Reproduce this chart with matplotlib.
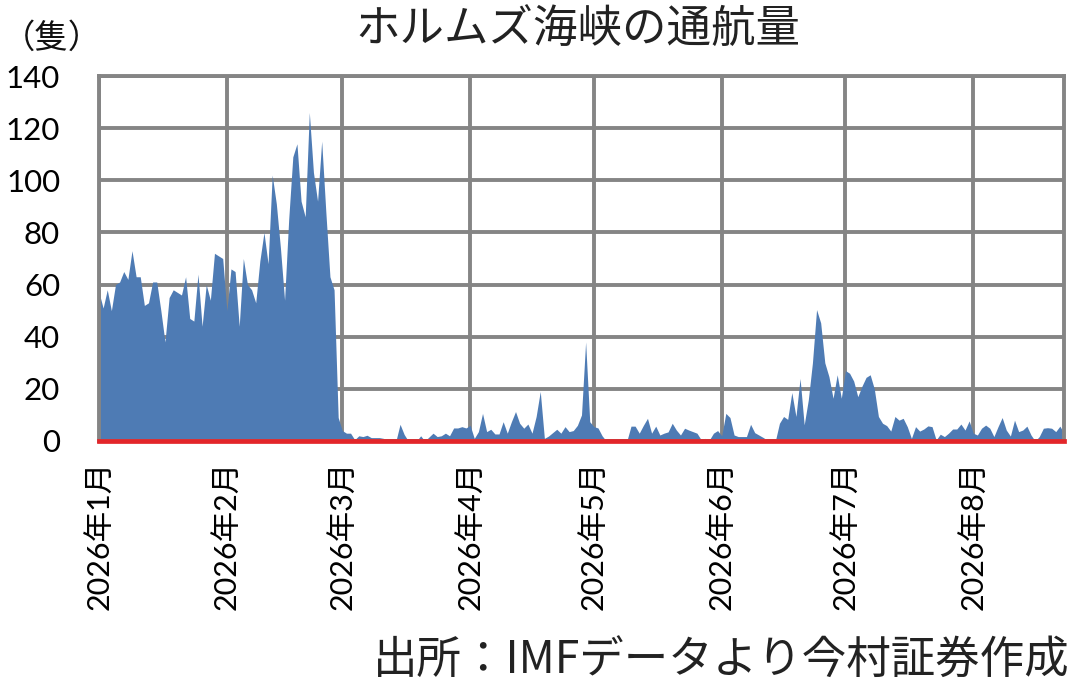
import numpy as np
import pandas as pd
import matplotlib
matplotlib.use("Agg")
import matplotlib.pyplot as plt
import matplotlib.dates as mdates

# ---- data (daily vessel transits) ----
jan = [57, 51, 58, 50, 60, 61, 65, 62, 73, 63, 63, 52, 53, 61, 61, 50, 38, 55,
       58, 57, 56, 63, 47, 46, 64, 44, 60, 54, 72, 71, 70]
feb = [50, 66, 65, 44, 70, 60, 58, 53, 69, 80, 68, 102, 91, 74, 54, 85, 109,
       114, 92, 86, 126, 103, 92, 115, 88, 63, 58, 9]
mar = [4, 3, 3, 0.5, 2, 1.7, 2.2, 1.3, 1.3, 1.3, 1, 0, 0, 0, 6.4, 2.5, 0, 0,
       0, 2, 0, 1.5, 3, 1.7, 2, 3, 2, 5, 5, 5.5, 5]
apr = [6, 1, 3.6, 10.6, 3.6, 4.5, 2.7, 2.7, 7.4, 3, 7.4, 11.3, 6.8, 4.9, 6.5,
       3, 9.4, 19, 1, 1.9, 3.2, 4.5, 3, 5.5, 3.6, 4, 6, 10, 38, 7.4]
may = [5.5, 5, 2, 0, 0, 0, 0, 0, 0, 5.7, 5.7, 3, 6, 8.7, 3, 5.7, 2.3, 3, 3.5,
       6.8, 4.2, 2.3, 4.9, 4.2, 3.6, 3, 0.5, 1, 0.4, 3, 4]
jun = [2, 10.6, 9, 2.3, 1.7, 1.7, 1.7, 6.4, 3.2, 2.3, 1.4, 0.4, 0, 0, 6.8, 9.4,
       8.3, 18.6, 9.4, 24, 6.2, 15.8, 30, 50.4, 45.3, 30, 24.7, 16.4, 25.4, 16.4]
jul = [27, 26, 23, 17, 21, 24.4, 25.4, 20, 9.4, 6.8, 5.9, 3.8, 9.4, 8, 8.7, 5.5,
       1, 5.5, 3.8, 4.6, 5.8, 5.5, 0.4, 2.6, 1.7, 3, 4.6, 4.6, 6.5, 4.2, 7.7]
aug = [3, 2.3, 4.9, 6.1, 4.9, 1.7, 5.5, 9, 4.2, 1.9, 8, 3.6, 4.2, 5.7, 2.3, 0,
       1.7, 4.9, 5.1, 4.9, 3.6, 5.7, 3]

values = jan + feb + mar + apr + may + jun + jul + aug
dates = pd.date_range("2026-01-01", periods=len(values), freq="D")

month_ticks = pd.date_range("2026-01-01", "2026-08-01", freq="MS")
month_labels = [f"2026年{d.month}月" for d in month_ticks]
y_ticks = [0, 20, 40, 60, 80, 100, 120, 140]

title = "ホルムズ海峡の通航量"
unit_label = "（隻）"
source = "出所：IMFデータより今村証券作成"

# ---- figure ----
cjk = ["Noto Sans CJK JP", "DejaVu Sans"]
num_font = ["Lato", "Noto Sans CJK JP", "DejaVu Sans"]

fig = plt.figure(figsize=(10.9, 6.85), dpi=100)
ax = fig.add_axes([99 / 1090, 1 - 441 / 685, (1064 - 99) / 1090, (441 - 76) / 685])

ax.fill_between(dates, values, 0, color="#4e7bb4", linewidth=0, zorder=2)
ax.axhline(0, color="#e3262a", linewidth=3.4, zorder=4, clip_on=False)

ax.set_xlim(dates[0], dates[-1])
ax.set_ylim(0, 140)
ax.set_yticks(y_ticks)
ax.set_yticklabels([str(v) for v in y_ticks], fontsize=22.5, family=num_font)
ax.set_xticks(month_ticks)
ax.set_xticklabels(month_labels, rotation=90, fontsize=22, family=num_font,
                   va="top", ha="center")

grid_c = "#858585"
ax.grid(True, color=grid_c, linewidth=2.8, zorder=1)
ax.set_axisbelow(True)
for s in ax.spines.values():
    s.set_color(grid_c)
    s.set_linewidth(2.8)
ax.tick_params(axis="both", length=0)
ax.tick_params(axis="y", pad=28)
ax.tick_params(axis="x", pad=14)

fig.text(0.53, 0.957, title, ha="center", va="center", fontsize=32,
         family=cjk, color="#222222")
fig.text(0.002, 0.944, unit_label, ha="left", va="center", fontsize=24,
         family=cjk, color="#111111")
fig.text(0.981, 0.036, source, ha="right", va="center", fontsize=32,
         family=cjk, color="#222222")

fig.savefig("out.png", dpi=100)
